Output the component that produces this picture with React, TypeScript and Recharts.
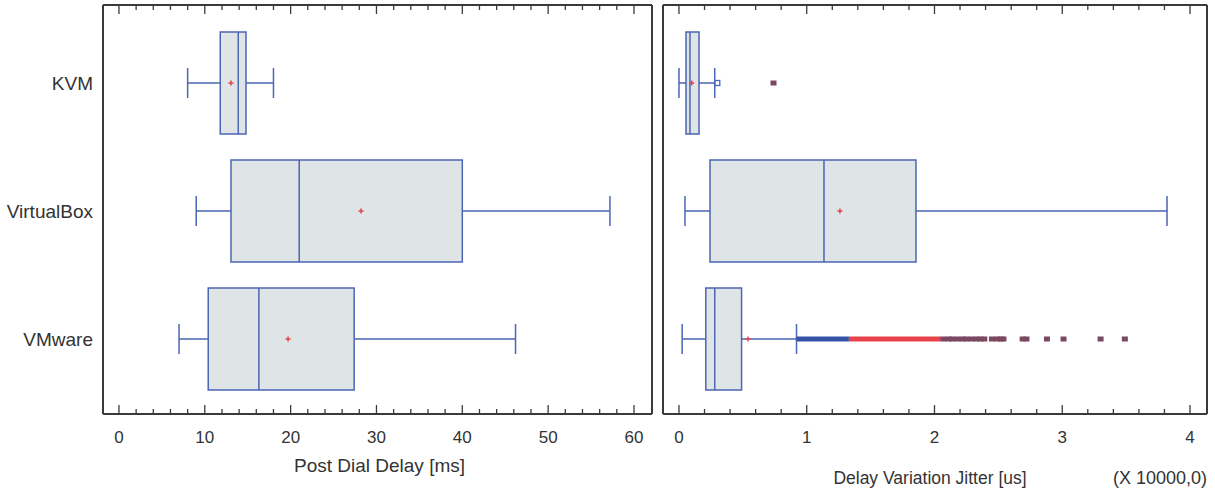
import { ComposedChart, Bar, XAxis, YAxis } from "recharts";

const categories = ["KVM", "VirtualBox", "VMware"];

// Post Dial Delay [ms]
const pddMin = [8, 9, 7];
const pddQ1 = [11.8, 13.05, 10.4];
const pddMedian = [13.9, 21, 16.3];
const pddQ3 = [14.8, 40, 27.4];
const pddMax = [18, 57.2, 46.2];
const pddMean = [13.05, 28.2, 19.7];

// Delay Variation Jitter [us] (x 10000)
const jitMin = [0, 0.047, 0.025];
const jitQ1 = [0.055, 0.243, 0.21];
const jitMedian = [0.086, 1.135, 0.28];
const jitQ3 = [0.157, 1.855, 0.49];
const jitMax = [0.28, 3.82, 0.92];
const jitMean = [0.1, 1.26, 0.54];
const jitNearOutliers = [[0.3], [], []];
const jitNearBand = [null, null, [0.92, 1.33]];
const jitFarBand = [null, null, [1.33, 2.05]];
const jitFarOutliers = [
  [0.74],
  [],
  [2.07, 2.11, 2.14, 2.18, 2.22, 2.25, 2.29, 2.33, 2.36, 2.39, 2.45, 2.49, 2.52, 2.54, 2.69, 2.72, 2.88, 3.01, 3.3, 3.49],
];

const pddMajorTicks = [0, 10, 20, 30, 40, 50, 60];
const jitMajorTicks = [0, 1, 2, 3, 4];
const pddTicks = Array.from({ length: 31 }, (_, i) => i * 2);
const jitTicks = Array.from({ length: 21 }, (_, i) => Math.round(i * 2) / 10);

const leftData = categories.map((name, i) => ({
  name,
  range: [pddMin[i], pddMax[i]],
  q1: pddQ1[i],
  median: pddMedian[i],
  q3: pddQ3[i],
  mean: pddMean[i],
  near: [] as number[],
  far: [] as number[],
  nearBand: null as number[] | null,
  farBand: null as number[] | null,
}));

const rightData = categories.map((name, i) => ({
  name,
  range: [jitMin[i], jitMax[i]],
  q1: jitQ1[i],
  median: jitMedian[i],
  q3: jitQ3[i],
  mean: jitMean[i],
  near: jitNearOutliers[i],
  far: jitFarOutliers[i],
  nearBand: jitNearBand[i],
  farBand: jitFarBand[i],
}));

const FONT = "Liberation Sans, Arial, sans-serif";
const TEXT = "#333";
const FRAME = "#3a3a3a";
const BOX = "#4a66b4";
const FILL = "#dfe4e6";
const RED = "#e8434a";
const DARK = "#7a4860";

function BoxShape(props: any) {
  const { x, y, width, height, payload } = props;
  const [lo, hi] = payload.range;
  const k = width / (hi - lo);
  const px = (v: number) => x + (v - lo) * k;
  const cy = y + height / 2;
  const cap = 15;
  return (
    <g>
      <line x1={px(lo)} x2={px(payload.q1)} y1={cy} y2={cy} stroke={BOX} strokeWidth={1.5} />
      <line x1={px(payload.q3)} x2={px(hi)} y1={cy} y2={cy} stroke={BOX} strokeWidth={1.5} />
      <line x1={px(lo)} x2={px(lo)} y1={cy - cap} y2={cy + cap} stroke={BOX} strokeWidth={1.5} />
      <line x1={px(hi)} x2={px(hi)} y1={cy - cap} y2={cy + cap} stroke={BOX} strokeWidth={1.5} />
      <rect
        x={px(payload.q1)}
        y={y}
        width={px(payload.q3) - px(payload.q1)}
        height={height}
        fill={FILL}
        stroke={BOX}
        strokeWidth={1.5}
      />
      <line x1={px(payload.median)} x2={px(payload.median)} y1={y} y2={y + height} stroke={BOX} strokeWidth={1.5} />
      <line x1={px(payload.mean) - 2.5} x2={px(payload.mean) + 2.5} y1={cy} y2={cy} stroke={RED} strokeWidth={1.5} />
      <line x1={px(payload.mean)} x2={px(payload.mean)} y1={cy - 2.5} y2={cy + 2.5} stroke={RED} strokeWidth={1.5} />
      {payload.nearBand && (
        <rect
          x={px(payload.nearBand[0])}
          y={cy - 2.5}
          width={px(payload.nearBand[1]) - px(payload.nearBand[0])}
          height={5}
          fill="#3553a6"
        />
      )}
      {payload.farBand && (
        <rect
          x={px(payload.farBand[0])}
          y={cy - 2.5}
          width={px(payload.farBand[1]) - px(payload.farBand[0])}
          height={5}
          fill={RED}
        />
      )}
      {payload.near.map((v: number, i: number) => (
        <rect key={`n${i}`} x={px(v) - 2.5} y={cy - 2.5} width={5} height={5} fill="none" stroke={BOX} strokeWidth={1.3} />
      ))}
      {payload.far.map((v: number, i: number) => (
        <rect key={`f${i}`} x={px(v) - 3} y={cy - 2.5} width={6} height={5} fill={DARK} />
      ))}
    </g>
  );
}

function FrameTick(props: any) {
  const { x, y, payload, side, majors } = props;
  const v = payload.value;
  const isMajor = majors.some((m: number) => Math.abs(m - v) < 1e-6);
  const len = isMajor ? 9 : 5;
  const dir = side === "bottom" ? -1 : 1;
  return (
    <g>
      <line x1={x} x2={x} y1={y} y2={y + dir * len} stroke={FRAME} strokeWidth={1.3} />
      {side === "bottom" && isMajor && (
        <text x={x} y={y + 29} textAnchor="middle" fontSize={17} fontFamily={FONT} fill={TEXT}>
          {v}
        </text>
      )}
    </g>
  );
}

function Panel(props: any) {
  const { data, width, domain, ticks, majors, marginLeft, yWidth, showCats, titles } = props;
  return (
    <ComposedChart
      width={width}
      height={495}
      data={data}
      layout="vertical"
      margin={{ top: 4, right: 7, bottom: 0, left: marginLeft }}
    >
      <XAxis
        xAxisId="bottom"
        type="number"
        orientation="bottom"
        domain={domain}
        allowDataOverflow
        ticks={ticks}
        interval={0}
        height={81}
        tickSize={0}
        tickMargin={0}
        axisLine={{ stroke: FRAME, strokeWidth: 2 }}
        tickLine={false}
        tick={(p: any) => <FrameTick {...p} side="bottom" majors={majors} />}
        label={(p: any) => {
          const vb = p.viewBox;
          return (
            <g>
              {titles.map((t: any, i: number) => (
                <text
                  key={i}
                  x={t.anchor === "end" ? vb.x + vb.width : vb.x + vb.width / 2 + t.dx}
                  y={vb.y + t.dy}
                  textAnchor={t.anchor}
                  fontSize={t.size}
                  fontFamily={FONT}
                  fill={TEXT}
                >
                  {t.text}
                </text>
              ))}
            </g>
          );
        }}
      />
      <XAxis
        xAxisId="top"
        type="number"
        orientation="top"
        domain={domain}
        allowDataOverflow
        ticks={ticks}
        interval={0}
        height={1}
        tickSize={0}
        tickMargin={0}
        axisLine={{ stroke: FRAME, strokeWidth: 2 }}
        tickLine={false}
        tick={(p: any) => <FrameTick {...p} side="top" majors={majors} />}
      />
      <YAxis
        type="category"
        dataKey="name"
        width={yWidth}
        padding={{ top: 14, bottom: 11 }}
        tickSize={0}
        tickMargin={10}
        tickLine={false}
        axisLine={{ stroke: FRAME, strokeWidth: 2 }}
        tick={showCats ? { fontSize: 19, fontFamily: FONT, fill: TEXT } : false}
      />
      <YAxis
        yAxisId="r"
        orientation="right"
        type="number"
        width={1}
        tick={false}
        tickLine={false}
        axisLine={{ stroke: FRAME, strokeWidth: 2 }}
      />
      <Bar xAxisId="bottom" dataKey="range" barSize={102} shape={BoxShape} isAnimationActive={false} />
    </ComposedChart>
  );
}

export default function App() {
  return (
    <div style={{ position: "absolute", left: 0, top: 0, width: 1215, height: 495, background: "#fff", display: "flex" }}>
      <Panel
        data={leftData}
        width={660}
        domain={[-1.86, 62.1]}
        ticks={pddTicks}
        majors={pddMajorTicks}
        marginLeft={0}
        yWidth={103}
        showCats
        titles={[{ text: "Post Dial Delay [ms]", dx: 2, dy: 58, anchor: "middle", size: 19 }]}
      />
      <Panel
        data={rightData}
        width={555}
        domain={[-0.125, 4.133]}
        ticks={jitTicks}
        majors={jitMajorTicks}
        marginLeft={2}
        yWidth={1}
        showCats={false}
        titles={[
          { text: "Delay Variation Jitter [us]", dx: -5, dy: 70, anchor: "middle", size: 17.5 },
          { text: "(X 10000,0)", dx: 0, dy: 70, anchor: "end", size: 18 },
        ]}
      />
    </div>
  );
}
